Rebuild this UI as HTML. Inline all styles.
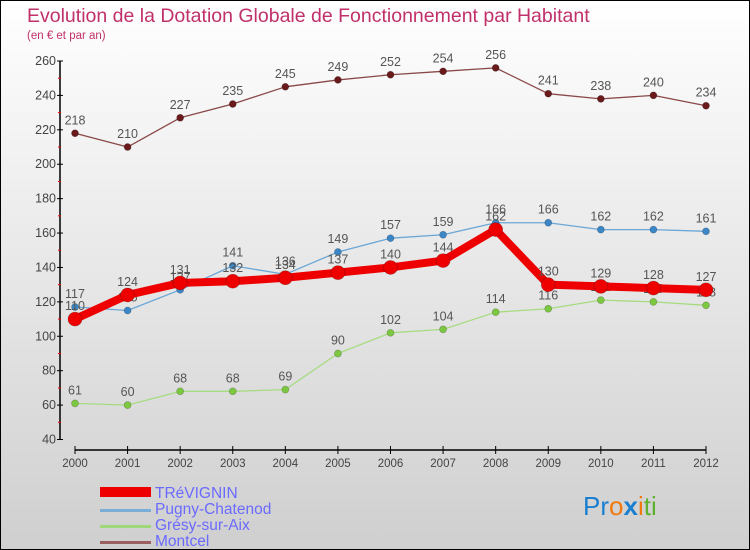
<!DOCTYPE html>
<html><head><meta charset="utf-8"><style>
body{margin:0;}
svg{display:block;font-family:"Liberation Sans",sans-serif;}
</style></head><body>
<svg id="c" width="750" height="550" xmlns="http://www.w3.org/2000/svg">
<defs><linearGradient id="bg" x1="0" y1="0" x2="0" y2="1"><stop offset="0" stop-color="#ffffff"/><stop offset="1" stop-color="#cfcfcf"/></linearGradient></defs>
<rect x="0.5" y="0.5" width="749" height="549" fill="url(#bg)" stroke="#000"/>
<text x="27" y="22" font-size="19.5" fill="#c0306a">Evolution de la Dotation Globale de Fonctionnement par Habitant</text>
<text x="27" y="39" font-size="11.5" fill="#c0306a">(en € et par an)</text>
<g id="axes"></g><g id="series"></g>
<g font-size="15.5" fill="#6a6aff">
<rect x="100" y="487" width="51" height="10" fill="#e00"/>
<text x="155" y="498">TRéVIGNIN</text>
<rect x="100" y="509" width="51" height="3" fill="#7aaed6"/>
<text x="155" y="514">Pugny-Chatenod</text>
<rect x="100" y="525" width="51" height="3" fill="#9fd87a"/>
<text x="155" y="530">Grésy-sur-Aix</text>
<rect x="100" y="541" width="51" height="3" fill="#9a6060"/>
<text x="155" y="546">Montcel</text>
</g>
<text x="583" y="515" font-size="26"><tspan fill="#1a7fd0">Pr</tspan><tspan fill="#f07a10">o</tspan><tspan fill="#1a7fd0" font-weight="bold">x</tspan><tspan fill="#f07a10">i</tspan><tspan fill="#60b030">ti</tspan></text>
</svg>
<script>
const years=[2000,2001,2002,2003,2004,2005,2006,2007,2008,2009,2010,2011,2012];
const trevignin=[110,124,131,132,134,137,140,144,162,130,129,128,127];
const pugny=[117,115,127,141,136,149,157,159,166,166,162,162,161];
const gresy=[61,60,68,68,69,90,102,104,114,116,121,120,118];
const montcel=[218,210,227,235,245,249,252,254,256,241,238,240,234];
const yTicks=[40,60,80,100,120,140,160,180,200,220,240,260];
const NS="http://www.w3.org/2000/svg";
const X=i=>75+i*(706-75)/12;
const Y=v=>61+(260-v)*(439.5-61)/220;
function mk(tag,attrs,parent,txt){const e=document.createElementNS(NS,tag);for(const k in attrs)e.setAttribute(k,attrs[k]);if(txt!==undefined)e.textContent=txt;parent.appendChild(e);return e;}
const ax=document.getElementById('axes');
let e=mk('line',{x1:60,y1:Y(260),x2:60,y2:Y(40),stroke:'#000','stroke-width':1.5},ax);

e=mk('line',{x1:X(0),y1:450,x2:X(12),y2:450,stroke:'#000','stroke-width':1.5},ax);

yTicks.forEach(t=>{
 mk('line',{x1:57,y1:Y(t),x2:63,y2:Y(t),stroke:'#000'},ax);
 if(t<260)mk('line',{x1:58,y1:Y(t+10),x2:61,y2:Y(t+10),stroke:'#e00'},ax);
 e=mk('text',{x:56,y:Y(t)+4,'font-size':12.5,'text-anchor':'end',fill:'#444'},ax,t);
 
});
years.forEach((yr,i)=>{
 mk('line',{x1:X(i),y1:446,x2:X(i),y2:454,stroke:'#000'},ax);
 e=mk('text',{x:X(i),y:467,'font-size':11.5,'text-anchor':'middle',fill:'#444'},ax,yr);
 
});
const sg=document.getElementById('series');
function draw(vals,name,color,dot,w,r){
 const g=mk('g',{},sg);
 
 const ln=mk('polyline',{points:vals.map((v,i)=>X(i)+','+Y(v)).join(' '),fill:'none',stroke:color,'stroke-width':w,'stroke-linejoin':'round'},g);
 
 vals.forEach((v,i)=>{
  const c=mk('circle',{cx:X(i),cy:Y(v),r:r,fill:dot,stroke:'rgba(0,0,0,0.25)','stroke-width':0.7},g);
  
  const t=mk('text',{x:X(i),y:Y(v)-9,'font-size':12.5,'text-anchor':'middle',fill:'#555'},g,v);
  
 });
}
draw(montcel,'montcel','#8a4848','#6a1a1a',1.3,3.5);
draw(gresy,'gresy','#a6dc80','#7cc840',1.3,3.5);
draw(pugny,'pugny','#6aa6d6','#3a86c6',1.3,3.5);
draw(trevignin,'trevignin','#ee0000','#ee0000',8,7);
</script>
</body></html>
